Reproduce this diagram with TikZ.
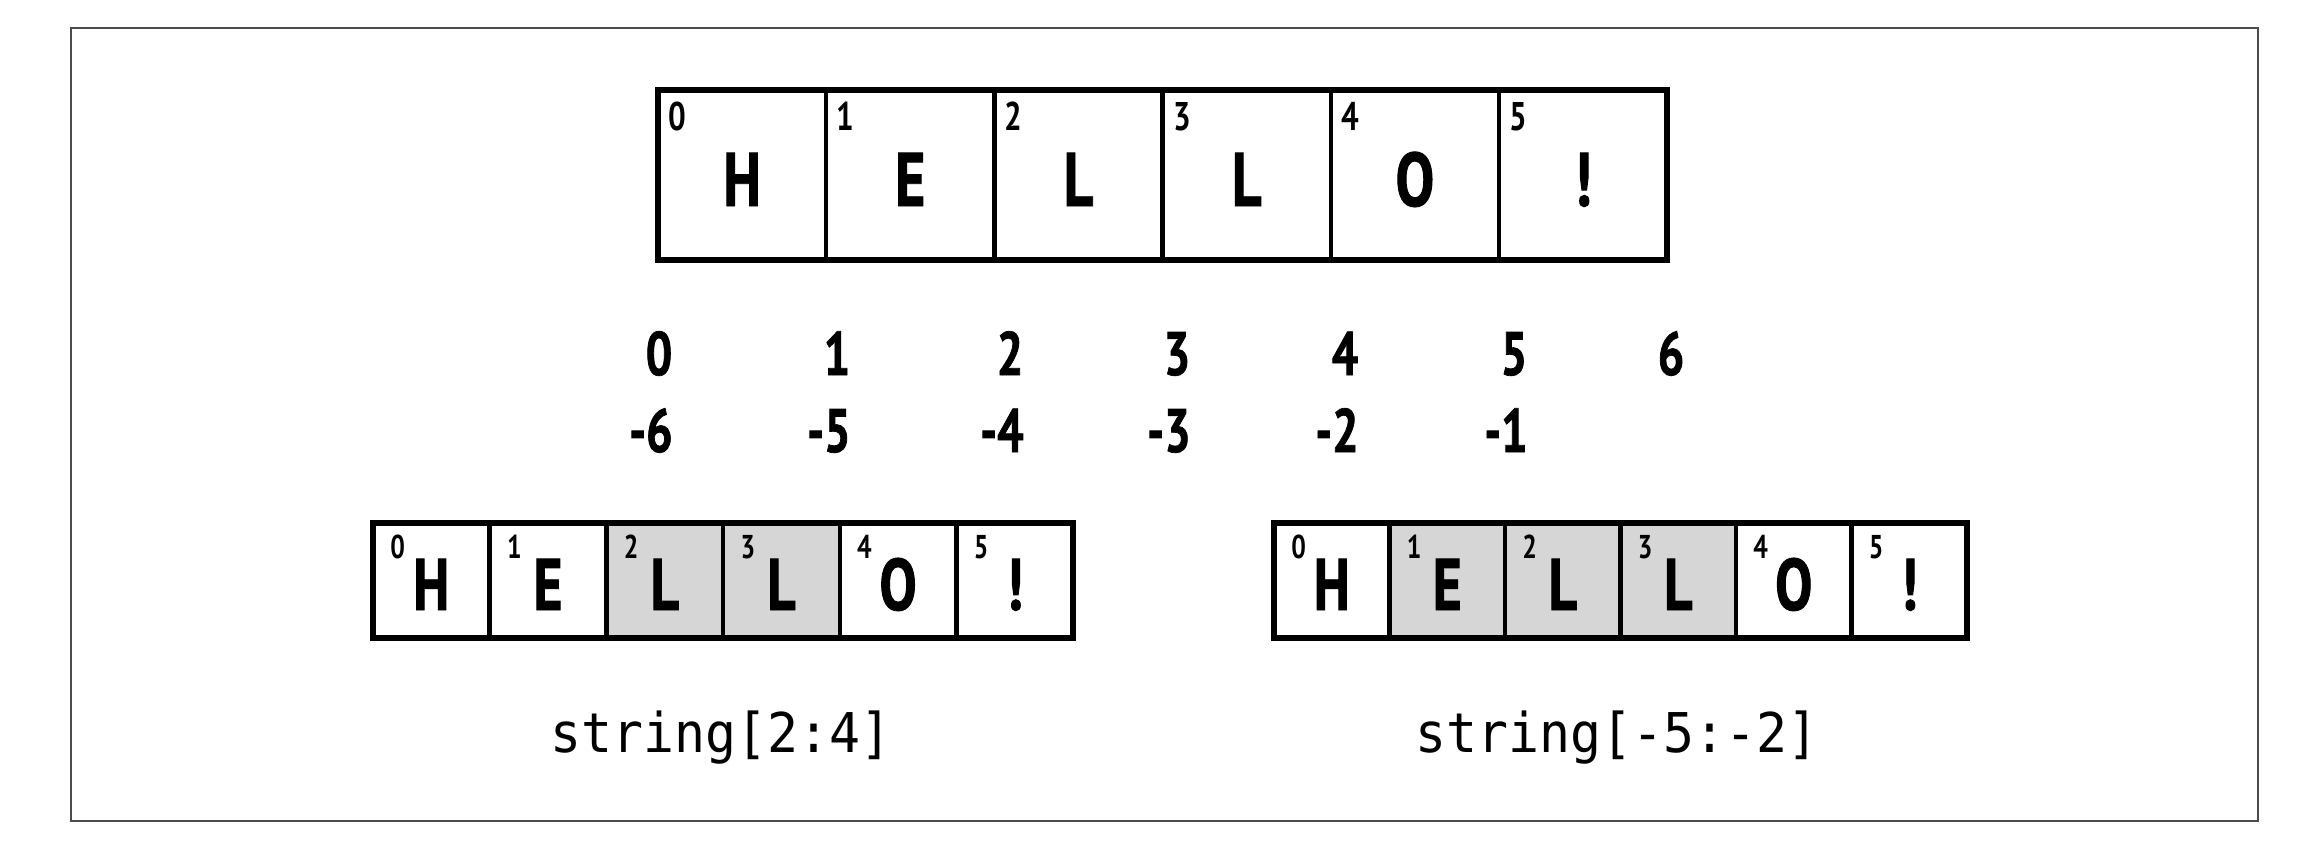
\documentclass[tikz,border=0pt]{standalone}
\usepackage{fontspec}
\newfontfamily\cellfont[FakeStretch=0.78]{PT Sans}
\newfontfamily\heavyfont[FakeStretch=0.76,FakeBold=1.2]{PT Sans Bold}
\newfontfamily\codefont[FakeStretch=0.94]{DejaVu Sans Mono}
\begin{document}
\begin{tikzpicture}[x=0.5pt,y=-0.5pt,
  frame/.style={draw=black!70, line width=0.8pt},
  cellbox/.style={draw, line width=2.2pt, inner sep=0pt, outer sep=0pt, anchor=center},
  topcell/.style={cellbox, minimum width=84.1pt, minimum height=85pt},
  botcell/.style={cellbox, minimum width=58.3pt, minimum height=57.5pt},
  outerbox/.style={draw, line width=3pt},
  bigletter/.style={font=\heavyfont\fontsize{38}{40}\selectfont, inner sep=0pt, anchor=base},
  midletter/.style={font=\heavyfont\fontsize{36.5}{38}\selectfont, inner sep=0pt, anchor=base},
  topidx/.style={font=\cellfont\bfseries\fontsize{20}{22}\selectfont, inner sep=0pt, anchor=base west},
  botidx/.style={font=\cellfont\bfseries\fontsize{16.5}{18}\selectfont, inner sep=0pt, anchor=base west},
  numlabel/.style={font=\heavyfont\fontsize{30.7}{32}\selectfont, inner sep=0pt, anchor=base},
  neglabel/.style={font=\heavyfont\fontsize{30.7}{32}\selectfont, inner sep=0pt, anchor=base east},
  codelabel/.style={font=\codefont\fontsize{27.4}{30}\selectfont, inner sep=0pt, anchor=base}
]
\useasboundingbox (0,0) rectangle (2309,864);
\draw[frame] (71,28) rectangle (2258,821);

% top HELLO! box
\foreach \i/\ch in {0/H,1/E,2/L,3/L,4/O,5/!}{
  \node[topcell] (t\i) at ({742.1+168.2*\i},175) {};
  \node[bigletter] (tl\i) at ({742.1+168.2*\i},206) {\ch};
  \node[topidx] (ti\i) at ({668+168.2*\i},130) {\i};
}
\draw[outerbox] (t0.north west) rectangle (t5.south east);

% index rows
\foreach \i/\x in {0/659,1/837,2/1010,3/1177,4/1345,5/1514,6/1671}{
  \node[numlabel] (p\i) at (\x,375) {\i};
}
\foreach \i/\x/\n in {0/673/-6,1/851/-5,2/1024/-4,3/1191/-3,4/1359/-2,5/1528/-1}{
  \node[neglabel] (n\i) at (\x,452) {\n};
}

% bottom-left box
\foreach \i/\ch/\f in {0/H/white,1/E/white,2/L/black!16,3/L/black!16,4/O/white,5/!/white}{
  \node[botcell, fill=\f] (a\i) at ({431.3+116.7*\i},580.5) {};
  \node[midletter] (al\i) at ({431.3+116.7*\i},610) {\ch};
  \node[botidx] (ai\i) at ({390+116.7*\i},558) {\i};
}
\draw[outerbox] (a0.north west) rectangle (a5.south east);

% bottom-right box
\foreach \i/\ch/\f in {0/H/white,1/E/black!16,2/L/black!16,3/L/black!16,4/O/white,5/!/white}{
  \node[botcell, fill=\f, minimum width=57.75pt] (b\i) at ({1331.8+115.5*\i},580.5) {};
  \node[midletter] (bl\i) at ({1331.8+115.5*\i},610) {\ch};
  \node[botidx] (bi\i) at ({1291+115.5*\i},558) {\i};
}
\draw[outerbox] (b0.north west) rectangle (b5.south east);

\node[codelabel] (la) at (721,752) {string[2:4]};
\node[codelabel] (lb) at (1617,752) {string[-5:-2]};
\end{tikzpicture}
\end{document}
